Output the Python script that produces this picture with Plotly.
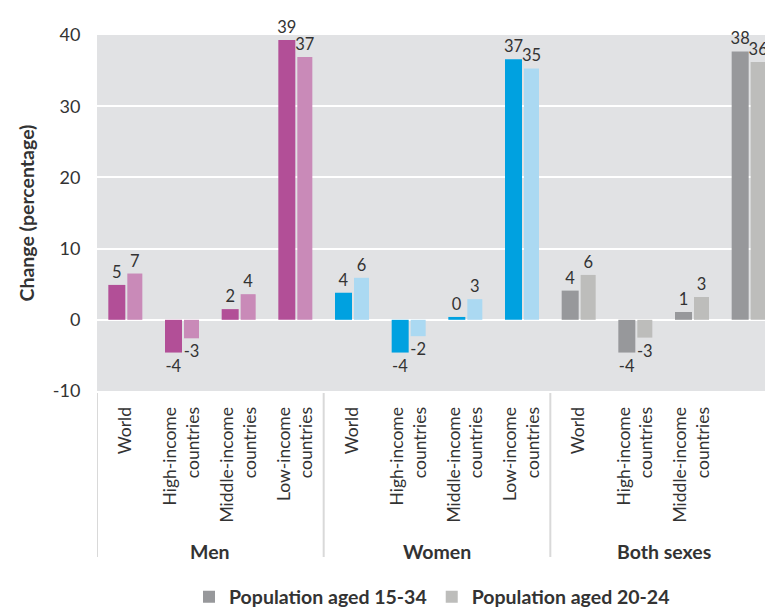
import plotly.graph_objects as go

groups = ["Men", "Women", "Both sexes"]
categories = ["World", "High-income<br>countries", "Middle-income<br>countries", "Low-income<br>countries"]

men_15_34 = [4.9, -4.6, 1.5, 39.3]
men_20_24 = [6.5, -2.6, 3.6, 36.9]
women_15_34 = [3.8, -4.6, 0.4, 36.6]
women_20_24 = [5.9, -2.3, 2.9, 35.3]
both_15_34 = [4.1, -4.6, 1.1, 37.7]
both_20_24 = [6.3, -2.5, 3.2, 36.2]

men_15_34_labels = ["5", "-4", "2", "39"]
men_20_24_labels = ["7", "-3", "4", "37"]
women_15_34_labels = ["4", "-4", "0", "37"]
women_20_24_labels = ["6", "-2", "3", "35"]
both_15_34_labels = ["4", "-4", "1", "38"]
both_20_24_labels = ["6", "-3", "3", "36"]

y_tickvals = [-10, 0, 10, 20, 30, 40]
y_ticktext = ["-10", "0", "10", "20", "30", "40"]

series_names = ["Population aged 15-34", "Population aged 20-24"]

colors = {
    "Men": ("#b24f97", "#c98ab8"),
    "Women": ("#00a1e0", "#abd9f2"),
    "Both sexes": ("#97989b", "#bdbdbb"),
}

data = {
    "Men": (men_15_34, men_20_24, men_15_34_labels, men_20_24_labels),
    "Women": (women_15_34, women_20_24, women_15_34_labels, women_20_24_labels),
    "Both sexes": (both_15_34, both_20_24, both_15_34_labels, both_20_24_labels),
}

FONT = "Lato, 'Open Sans', sans-serif"
TXT = "#333333"

fig = go.Figure()
n_cat = len(categories)
tickvals, ticktext = [], []
for gi, g in enumerate(groups):
    xs = [gi * n_cat + i for i in range(n_cat)]
    tickvals += xs
    ticktext += categories
    v1, v2, l1, l2 = data[g]
    c1, c2 = colors[g]
    legend = (g == "Both sexes")
    fig.add_trace(go.Bar(
        x=xs, y=v1, text=l1, textposition="outside", cliponaxis=False,
        constraintext="none", width=0.30, offset=-0.30,
        marker=dict(color=c1, line=dict(width=0)),
        textfont=dict(size=16.5, color=TXT, family=FONT),
        name=series_names[0], showlegend=legend, legendrank=1,
        hoverinfo="skip",
    ))
    fig.add_trace(go.Bar(
        x=xs, y=v2, text=l2, textposition="outside", cliponaxis=False,
        constraintext="none", width=0.265, offset=0.035,
        marker=dict(color=c2, line=dict(width=0)),
        textfont=dict(size=16.5, color=TXT, family=FONT),
        name=series_names[1], showlegend=legend, legendrank=2,
        hoverinfo="skip",
    ))

W, H = 765, 610
ml, mt, plot_bottom = 97, 35, 391
px_per_cat = 680 / (len(groups) * n_cat)
plot_w = W - ml
x_range = [-0.5, -0.5 + plot_w / px_per_cat]
plot_h = plot_bottom - mt

def py(ypix):
    return -(ypix - plot_bottom) / plot_h

# group dividers
for gi in range(len(groups)):
    xd = gi * n_cat - 0.5
    fig.add_shape(type="line", xref="x", yref="paper", x0=xd, x1=xd,
                  y0=py(393), y1=py(557), line=dict(color="#d9d9d9", width=2),
                  layer="above")

for gi, g in enumerate(groups):
    fig.add_annotation(x=gi * n_cat + (n_cat - 1) / 2, xref="x", y=py(551), yref="paper",
                       text="<b>%s</b>" % g, showarrow=False, yanchor="middle",
                       font=dict(size=19.5, color=TXT, family=FONT))

fig.update_layout(
    width=W, height=H,
    margin=dict(l=ml, r=0, t=mt, b=H - plot_bottom, pad=0, autoexpand=False),
    paper_bgcolor="white", plot_bgcolor="#e1e2e4",
    barmode="overlay",
    font=dict(family=FONT, color=TXT),
    showlegend=True,
    legend=dict(orientation="h", x=(432 - ml) / plot_w, xanchor="center",
                yref="container", y=1 - 597 / H, yanchor="middle",
                font=dict(size=19.5, color=TXT, family=FONT), traceorder="normal",
                itemclick=False, bgcolor="rgba(0,0,0,0)"),
    xaxis=dict(range=x_range, tickmode="array", tickvals=tickvals, ticktext=ticktext,
               tickangle=-90, showgrid=False, zeroline=False, showline=False,
               ticks="outside", ticklen=8, tickcolor="rgba(0,0,0,0)", automargin=False,
               tickfont=dict(size=17.5, color=TXT, family=FONT), fixedrange=True),
    yaxis=dict(range=[-10, 40], tickmode="array", tickvals=y_tickvals, ticktext=y_ticktext,
               showgrid=True, gridcolor="white", gridwidth=2, automargin=False,
               zeroline=False, showline=False, ticks="outside", ticklen=12,
               tickcolor="rgba(0,0,0,0)", tickfont=dict(size=18, color=TXT, family=FONT),
               title=dict(text="<b>Change (percentage)</b>", font=dict(size=19.5, color=TXT, family=FONT),
                          standoff=12), fixedrange=True),
)
for tr in fig.data:
    if tr.showlegend:
        tr.name = "<b>%s</b>" % tr.name

fig.write_html("out.html",
               post_script="document.body.style.margin='0';document.body.style.overflow='hidden';",
               config={"displayModeBar": False})
